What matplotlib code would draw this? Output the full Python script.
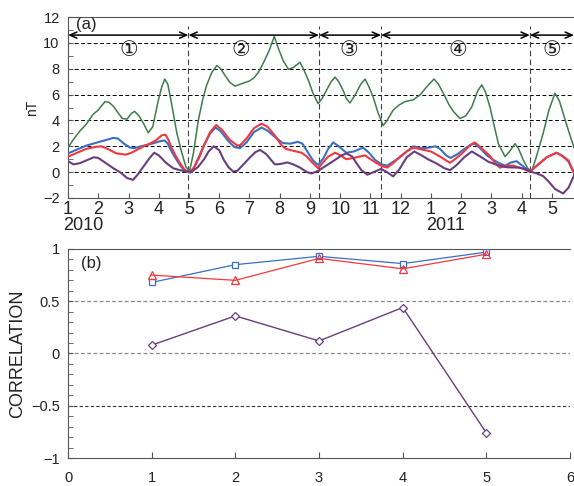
import matplotlib
matplotlib.use("Agg")
import matplotlib.pyplot as plt
from matplotlib.ticker import MultipleLocator

plt.rcParams['font.family'] = ['Liberation Sans', 'DejaVu Sans', 'Noto Sans CJK JP']

# --------------------------------------------------
# (a) time series, x = month index (1 = Jan 2010)
# --------------------------------------------------

green_t = [1.0, 1.2, 1.4, 1.6, 1.84, 2.0, 2.1, 2.22, 2.35, 2.5, 2.65, 2.8, 2.95, 3.1, 3.2, 3.35,
           3.5, 3.65, 3.8, 3.99, 4.1, 4.2, 4.3, 4.4, 4.5, 4.6, 4.75, 4.9, 5.02, 5.15, 5.3, 5.45,
           5.58, 5.75, 5.92, 6.05, 6.2, 6.35, 6.52, 6.75, 7.0, 7.15, 7.29, 7.46, 7.65, 7.82, 7.95,
           8.12, 8.29, 8.45, 8.67, 8.8, 8.95, 9.1, 9.27, 9.4, 9.55, 9.7, 9.83, 9.95, 10.1, 10.2,
           10.32, 10.5, 10.68, 10.82, 10.95, 11.09, 11.25, 11.42, 11.55, 11.75, 11.95, 12.14,
           12.42, 12.65, 12.86, 13.1, 13.25, 13.41, 13.6, 13.74, 13.96, 14.15, 14.35, 14.55,
           14.68, 14.8, 14.95, 15.1, 15.23, 15.45, 15.6, 15.78, 15.9, 16.05, 16.2, 16.33, 16.5,
           16.71, 16.9, 17.1, 17.25, 17.37, 17.55, 17.73]
green_v = [1.9, 2.6, 3.2, 3.7, 4.5, 4.8, 5.1, 5.45, 5.4, 5.1, 4.6, 4.15, 4.1, 4.55, 4.7, 4.35,
           3.75, 3.05, 3.5, 5.6, 6.6, 7.2, 6.8, 5.6, 4.3, 3.0, 1.6, 0.4, 0.1, 1.5, 3.9, 5.6,
           6.7, 7.7, 8.25, 8.0, 7.45, 6.95, 6.65, 6.85, 7.05, 7.3, 7.7, 8.45, 9.4, 10.5, 9.6,
           8.6, 7.95, 8.1, 8.5, 7.9, 7.1, 6.1, 5.3, 5.7, 6.35, 7.0, 7.35, 7.0, 6.3, 5.7,
           5.35, 6.0, 6.8, 7.2, 6.6, 5.8, 4.6, 3.6, 4.0, 4.8, 5.2, 5.45,
           5.6, 6.0, 6.6, 7.2, 6.8, 6.1, 5.2, 4.7, 4.15, 4.35, 5.05, 6.3,
           6.75, 6.2, 5.05, 3.5, 2.2, 1.2, 1.6, 2.2, 1.8, 0.95, 0.3, 0.05, 1.3,
           3.0, 4.8, 6.1, 5.5, 4.55, 3.2, 1.9]

blue_t = [1.0, 1.3, 1.6, 1.9, 2.2, 2.5, 2.65, 2.85, 3.05, 3.2, 3.4, 3.6, 3.85, 4.05, 4.2, 4.3,
          4.4, 4.55, 4.7, 4.87, 5.05, 5.2, 5.35, 5.5, 5.7, 5.88, 6.05, 6.3, 6.5, 6.68, 6.9, 7.15,
          7.4, 7.6, 7.85, 8.1, 8.35, 8.6, 8.75, 8.95, 9.1, 9.27, 9.45, 9.6, 9.77, 9.95, 10.2,
          10.45, 10.76, 10.95, 11.15, 11.37, 11.55, 11.75, 12.0, 12.2, 12.42, 12.7, 12.95, 13.15,
          13.3, 13.5, 13.65, 13.85, 14.05, 14.3, 14.45, 14.65, 14.85, 15.06, 15.25, 15.45, 15.65,
          15.83, 16.05, 16.27, 16.5, 16.83, 17.15, 17.35, 17.55, 17.73]
blue_v = [1.45, 1.75, 2.05, 2.25, 2.45, 2.65, 2.6, 2.2, 1.9, 1.85, 2.0, 2.1, 2.25, 2.4, 2.45, 2.2,
          1.7, 1.1, 0.55, 0.05, -0.05, 0.5, 1.3, 2.1, 3.0, 3.45, 3.15, 2.4, 1.95, 1.85, 2.3, 3.1,
          3.45, 3.2, 2.7, 2.25, 2.2, 2.35, 2.2, 1.45, 0.9, 0.55, 1.1, 1.8, 2.3, 2.0, 1.5,
          1.6, 1.9, 1.5, 0.95, 0.6, 0.5, 0.8, 1.2, 1.6, 2.0, 1.85, 1.9, 2.0,
          1.8, 1.3, 1.1, 1.35, 1.7, 2.1, 2.2, 1.8, 1.3, 0.95, 0.7, 0.5, 0.75,
          0.85, 0.45, 0.05, 0.5, 1.15, 1.5, 1.25, 0.8, -0.1]

red_t = [1.0, 1.3, 1.6, 1.9, 2.1, 2.35, 2.6, 2.9, 3.1, 3.3, 3.5, 3.7, 3.9, 4.1, 4.22, 4.32,
         4.42, 4.55, 4.7, 4.85, 5.0, 5.15, 5.35, 5.5, 5.7, 5.9, 6.1, 6.35, 6.6, 6.7, 6.9, 7.15,
         7.4, 7.6, 7.85, 8.05, 8.2, 8.45, 8.72, 8.9, 9.05, 9.27, 9.45, 9.6, 9.83, 10.0, 10.2,
         10.45, 10.82, 11.0, 11.2, 11.4, 11.55, 11.75, 11.98, 12.2, 12.42, 12.7, 13.0, 13.3,
         13.63, 13.85, 14.05, 14.3, 14.45, 14.65, 14.95, 15.1, 15.28, 15.5, 15.72, 16.0, 16.27,
         16.55, 16.83, 17.15, 17.35, 17.55, 17.73]
red_v = [1.2, 1.5, 1.8, 1.95, 2.0, 1.75, 1.45, 1.35, 1.5, 1.75, 2.0, 2.2, 2.45, 2.85, 2.9, 2.5,
         1.9, 1.3, 0.7, 0.2, 0.0, 0.3, 1.2, 2.1, 3.1, 3.65, 3.25, 2.5, 2.05, 2.1, 2.6, 3.4,
         3.75, 3.5, 2.8, 2.1, 1.8, 1.65, 1.5, 1.2, 0.8, 0.3, 0.8, 1.2, 1.5, 1.3, 1.0,
         1.1, 1.3, 1.0, 0.7, 0.45, 0.35, 0.7, 1.2, 1.6, 1.9, 1.75, 1.6, 1.2,
         0.72, 1.1, 1.5, 2.1, 2.3, 1.9, 1.25, 0.75, 0.35, 0.5, 0.5, 0.3, 0.03,
         0.6, 1.15, 1.5, 1.25, 0.9, -0.05]

purple_t = [1.0, 1.18, 1.4, 1.6, 1.85, 2.0, 2.25, 2.5, 2.75, 2.95, 3.15, 3.3, 3.5, 3.7, 3.85,
            4.0, 4.25, 4.48, 4.7, 4.92, 5.1, 5.3, 5.5, 5.65, 5.82, 6.0, 6.15, 6.3, 6.46, 6.6,
            6.8, 7.0, 7.2, 7.35, 7.55, 7.84, 8.0, 8.25, 8.45, 8.67, 8.9, 9.05, 9.27, 9.5, 9.83,
            10.05, 10.21, 10.4, 10.55, 10.7, 10.9, 11.1, 11.35, 11.55, 11.75, 11.95, 12.2, 12.45,
            12.65, 12.9, 13.2, 13.45, 13.63, 13.85, 14.1, 14.35, 14.6, 14.9, 15.2, 15.5, 15.9,
            16.1, 16.3, 16.5, 16.71, 16.9, 17.1, 17.37, 17.55, 17.73]
purple_v = [0.85, 0.6, 0.7, 0.9, 1.15, 1.1, 0.7, 0.3, -0.05, -0.45, -0.6, -0.2, 0.45, 1.1, 1.5,
            1.3, 0.7, 0.3, 0.15, 0.05, 0.05, 0.4, 1.0, 1.6, 2.0, 1.7, 0.95, 0.4, 0.05, 0.1,
            0.6, 1.1, 1.55, 1.72, 1.4, 0.6, 0.62, 0.75, 0.6, 0.35, 0.0, -0.1, 0.1, 0.45, 0.95,
            1.3, 1.45, 1.2, 0.65, 0.15, -0.2, 0.0, 0.25, 0.0, -0.33, 0.2, 1.15, 1.6,
            1.35, 1.0, 0.65, 0.3, 0.15, 0.55, 1.15, 1.6, 1.25, 0.8, 0.55, 0.38, 0.35,
            0.25, 0.03, -0.1, -0.3, -0.75, -1.3, -1.65, -1.2, -0.25]

month_labels = ["1", "2", "3", "4", "5", "6", "7", "8", "9", "10", "11", "12",
                "1", "2", "3", "4", "5"]
bounds = [1.0, 4.98, 9.3, 11.35, 16.27, 17.73]
period_names = ["①", "②", "③", "④", "⑤"]
period_x = [3.0, 6.7, 10.3, 13.9, 17.0]

# --------------------------------------------------
# (b) correlation per period
# --------------------------------------------------

period = [1, 2, 3, 4, 5]
corr_blue = [0.68, 0.85, 0.93, 0.86, 0.97]
corr_red = [0.75, 0.70, 0.91, 0.81, 0.95]
corr_purple = [0.08, 0.36, 0.12, 0.44, -0.76]

c_green = "#3d7d4a"
c_blue = "#3c6fc2"
c_red = "#f2383e"
c_purple = "#6b3d7e"
spine_c = "#555555"

fig = plt.figure(figsize=(5.74, 4.86), dpi=100)

# --------------------------------------------------
# panel (a)
# --------------------------------------------------

ax1 = fig.add_axes([0.1185, 0.5926, 0.8815, 0.3724])
for yy in [0, 2, 4, 6, 8, 10]:
    ax1.axhline(yy, color="k", lw=0.7, dashes=(4, 2.5), zorder=1)
for b in bounds[1:-1]:
    ax1.axvline(b, ymax=0.95, color="#444444", lw=0.8, dashes=(5, 3), zorder=1)

ax1.plot(green_t, green_v, color=c_green, lw=1.1, zorder=3)
ax1.plot(blue_t, blue_v, color=c_blue, lw=1.5, zorder=4)
ax1.plot(red_t, red_v, color=c_red, lw=1.5, zorder=5)
ax1.plot(purple_t, purple_v, color=c_purple, lw=1.5, zorder=6)

for i in range(len(bounds) - 1):
    ax1.annotate("", xy=(bounds[i + 1], 10.6), xytext=(bounds[i], 10.6),
                 arrowprops=dict(arrowstyle="<->,head_length=0.5,head_width=0.22",
                                 lw=1.1, color="k", shrinkA=0, shrinkB=0), zorder=7)
    ax1.text(period_x[i], 9.45, period_names[i], ha="center", va="center", fontsize=15,
             color="#222222", family=["DejaVu Sans", "Noto Sans CJK JP"])

ax1.text(1.25, 11.45, "(a)", fontsize=12, ha="left", va="center", color="#222222")

ax1.set_xlim(1, 17.73)
ax1.set_ylim(-2, 12)
ax1.set_xticks(range(1, 18))
ax1.set_xticklabels(month_labels, fontsize=13, color="#222222")
ax1.yaxis.set_major_locator(MultipleLocator(2))
ax1.yaxis.set_minor_locator(MultipleLocator(1))
ax1.tick_params(axis="y", which="both", direction="in", length=3.5, labelsize=10.5,
                labelcolor="#222222", color=spine_c, pad=6)
ax1.tick_params(axis="x", direction="in", length=3.5, color=spine_c, pad=2)
for s in ["left", "bottom", "top"]:
    ax1.spines[s].set_color(spine_c)
ax1.spines["right"].set_visible(False)

fig.text(63 / 574, 1 - 226 / 486, "2010", fontsize=13, ha="left", va="center", color="#222222")
fig.text(446 / 574, 1 - 226 / 486, "2011", fontsize=13, ha="center", va="center", color="#222222")
fig.text(32 / 574, 1 - 108 / 486, "nT", fontsize=10, rotation=90, ha="center", va="center",
         color="#222222")

# --------------------------------------------------
# panel (b)
# --------------------------------------------------

ax2 = fig.add_axes([0.1185, 0.0576, 0.8746, 0.4301])
ax2.axhline(0.5, color="#888888", lw=0.9, dashes=(3, 2), zorder=1)
ax2.axhline(0.0, color="#888888", lw=0.9, dashes=(3, 2), zorder=1)
ax2.axhline(-0.5, color="#333333", lw=0.8, dashes=(3, 2), zorder=1)

ax2.plot(period, corr_blue, color=c_blue, lw=0.9, marker="s", ms=4.5, mfc="white",
         mec=c_blue, mew=0.9, zorder=3)
ax2.plot(period, corr_red, color=c_red, lw=0.9, marker="^", ms=6, mfc="none",
         mec=c_red, mew=0.9, zorder=4)
ax2.plot(period, corr_purple, color=c_purple, lw=1.0, marker="D", ms=4, mfc="white",
         mec=c_purple, mew=0.9, zorder=3)

ax2.text(0.15, 0.865, "(b)", fontsize=12, ha="left", va="center", color="#222222")

ax2.set_xlim(0, 6)
ax2.set_ylim(-1, 1)
ax2.set_xticks(range(0, 7))
ax2.yaxis.set_major_locator(MultipleLocator(0.5))
ax2.yaxis.set_minor_locator(MultipleLocator(0.1))
ax2.set_yticks([-1, -0.5, 0, 0.5, 1])
ax2.set_yticklabels(["\u22121", "\u22120.5", "0", "0.5", "1"])
ax2.tick_params(axis="y", which="both", direction="in", length=3.5, labelsize=10.5,
                labelcolor="#222222", color=spine_c, pad=6)
ax2.tick_params(axis="x", direction="in", length=4, labelsize=10.5, labelcolor="#222222",
                color=spine_c, pad=9)
for s in ["left", "bottom", "top"]:
    ax2.spines[s].set_color(spine_c)
ax2.spines["right"].set_visible(False)

fig.text(18 / 574, 1 - 354 / 486, "CORRELATION", fontsize=13, rotation=90, ha="center",
         va="center", color="#222222")

fig.savefig("out.png", dpi=100)
